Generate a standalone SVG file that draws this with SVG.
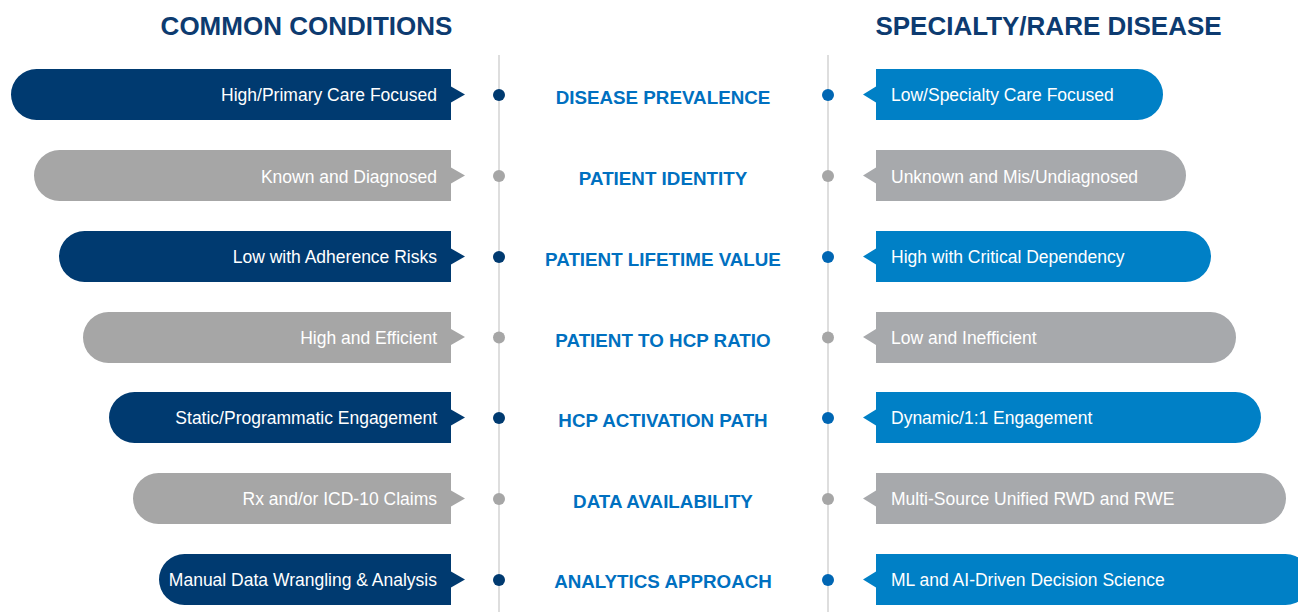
<svg xmlns="http://www.w3.org/2000/svg" width="1298" height="612" viewBox="0 0 1298 612">
  <style>
    .hdr { font-family: "Liberation Sans", Arial, sans-serif; font-weight: bold; font-size: 26px; fill: #0d3b70; text-anchor: middle; }
    .mid { font-family: "Liberation Sans", Arial, sans-serif; font-weight: bold; font-size: 18.8px; fill: #0070c0; text-anchor: middle; }
    .lt { font-family: "Liberation Sans", Arial, sans-serif; font-size: 17.5px; fill: #ffffff; text-anchor: end; }
    .rt { font-family: "Liberation Sans", Arial, sans-serif; font-size: 17.5px; fill: #ffffff; text-anchor: start; }
    .navy { fill: #003a70; }
    .blue { fill: #0080c6; }
    .gryL { fill: #a6a6a6; }
    .gryR { fill: #a7a9ac; }
    .axis { stroke: #d6d6d6; stroke-width: 1.6; fill: none; }
    .dNavy { fill: #003a70; }
    .dBlue { fill: #0066b3; }
    .dGray { fill: #a6a6a6; }
  </style>

  <!-- column headings -->
  <text class="hdr" x="306.5" y="35">COMMON CONDITIONS</text>
  <text class="hdr" x="1048.5" y="35">SPECIALTY/RARE DISEASE</text>

  <!-- timeline axes with row markers -->
  <g id="connectors">
    <line class="axis" x1="499" y1="55" x2="499" y2="612"/>
    <line class="axis" x1="828" y1="55" x2="828" y2="612"/>
    <circle class="dNavy" cx="499" cy="95" r="6"/>
    <circle class="dGray" cx="499" cy="176" r="6"/>
    <circle class="dNavy" cx="499" cy="257" r="6"/>
    <circle class="dGray" cx="499" cy="337.5" r="6"/>
    <circle class="dNavy" cx="499" cy="418" r="6"/>
    <circle class="dGray" cx="499" cy="499" r="6"/>
    <circle class="dNavy" cx="499" cy="580" r="6"/>
    <circle class="dBlue" cx="828" cy="95" r="6"/>
    <circle class="dGray" cx="828" cy="176" r="6"/>
    <circle class="dBlue" cx="828" cy="257" r="6"/>
    <circle class="dGray" cx="828" cy="337.5" r="6"/>
    <circle class="dBlue" cx="828" cy="418" r="6"/>
    <circle class="dGray" cx="828" cy="499" r="6"/>
    <circle class="dBlue" cx="828" cy="580" r="6"/>
  </g>

  <!-- row 1 -->
  <g id="prevalence">
    <path class="navy" d="M36.5 69 H451 V86.5 L465 94.5 L451 102.5 V120 H36.5 A25.5 25.5 0 0 1 36.5 69 Z"/>
    <text class="lt" x="437" y="101">High/Primary Care Focused</text>
    <text class="mid" x="663" y="104">DISEASE PREVALENCE</text>
    <path class="blue" d="M876 69 H1137.5 A25.5 25.5 0 0 1 1137.5 120 H876 V102.5 L863 94.5 L876 86.5 Z"/>
    <text class="rt" x="891" y="101">Low/Specialty Care Focused</text>
  </g>

  <!-- row 2 -->
  <g id="identity">
    <path class="gryL" d="M59.5 150 H451 V167.5 L465 175.5 L451 183.5 V201 H59.5 A25.5 25.5 0 0 1 59.5 150 Z"/>
    <text class="lt" x="437" y="182.5">Known and Diagnosed</text>
    <text class="mid" x="663" y="185">PATIENT IDENTITY</text>
    <path class="gryR" d="M876 150 H1160.5 A25.5 25.5 0 0 1 1160.5 201 H876 V183.5 L863 175.5 L876 167.5 Z"/>
    <text class="rt" x="891" y="182.5">Unknown and Mis/Undiagnosed</text>
  </g>

  <!-- row 3 -->
  <g id="lifetime-value">
    <path class="navy" d="M84.5 231 H451 V248.5 L465 256.5 L451 264.5 V282 H84.5 A25.5 25.5 0 0 1 84.5 231 Z"/>
    <text class="lt" x="437" y="263">Low with Adherence Risks</text>
    <text class="mid" x="663" y="266">PATIENT LIFETIME VALUE</text>
    <path class="blue" d="M876 231 H1185.5 A25.5 25.5 0 0 1 1185.5 282 H876 V264.5 L863 256.5 L876 248.5 Z"/>
    <text class="rt" x="891" y="263">High with Critical Dependency</text>
  </g>

  <!-- row 4 -->
  <g id="hcp-ratio">
    <path class="gryL" d="M108.5 312 H451 V329 L465 337 L451 345 V363 H108.5 A25.5 25.5 0 0 1 108.5 312 Z"/>
    <text class="lt" x="437" y="344">High and Efficient</text>
    <text class="mid" x="663" y="346.5">PATIENT TO HCP RATIO</text>
    <path class="gryR" d="M876 312 H1210.5 A25.5 25.5 0 0 1 1210.5 363 H876 V345 L863 337 L876 329 Z"/>
    <text class="rt" x="891" y="344">Low and Inefficient</text>
  </g>

  <!-- row 5 -->
  <g id="activation-path">
    <path class="navy" d="M134.5 392 H451 V409.5 L465 417.5 L451 425.5 V443 H134.5 A25.5 25.5 0 0 1 134.5 392 Z"/>
    <text class="lt" x="437" y="424">Static/Programmatic Engagement</text>
    <text class="mid" x="663" y="427">HCP ACTIVATION PATH</text>
    <path class="blue" d="M876 392 H1235.5 A25.5 25.5 0 0 1 1235.5 443 H876 V425.5 L863 417.5 L876 409.5 Z"/>
    <text class="rt" x="891" y="424">Dynamic/1:1 Engagement</text>
  </g>

  <!-- row 6 -->
  <g id="data-availability">
    <path class="gryL" d="M158.5 473 H451 V490.5 L465 498.5 L451 506.5 V524 H158.5 A25.5 25.5 0 0 1 158.5 473 Z"/>
    <text class="lt" x="437" y="505">Rx and/or ICD-10 Claims</text>
    <text class="mid" x="663" y="508">DATA AVAILABILITY</text>
    <path class="gryR" d="M876 473 H1260.5 A25.5 25.5 0 0 1 1260.5 524 H876 V506.5 L863 498.5 L876 490.5 Z"/>
    <text class="rt" x="891" y="505">Multi-Source Unified RWD and RWE</text>
  </g>

  <!-- row 7 -->
  <g id="analytics-approach">
    <path class="navy" d="M184.5 554 H451 V571.5 L465 579.5 L451 587.5 V605 H184.5 A25.5 25.5 0 0 1 184.5 554 Z"/>
    <text class="lt" x="437" y="586">Manual Data Wrangling &amp; Analysis</text>
    <text class="mid" x="663" y="588">ANALYTICS APPROACH</text>
    <path class="blue" d="M876 554 H1285.5 A25.5 25.5 0 0 1 1285.5 605 H876 V587.5 L863 579.5 L876 571.5 Z"/>
    <text class="rt" x="891" y="586">ML and AI-Driven Decision Science</text>
  </g>
</svg>
